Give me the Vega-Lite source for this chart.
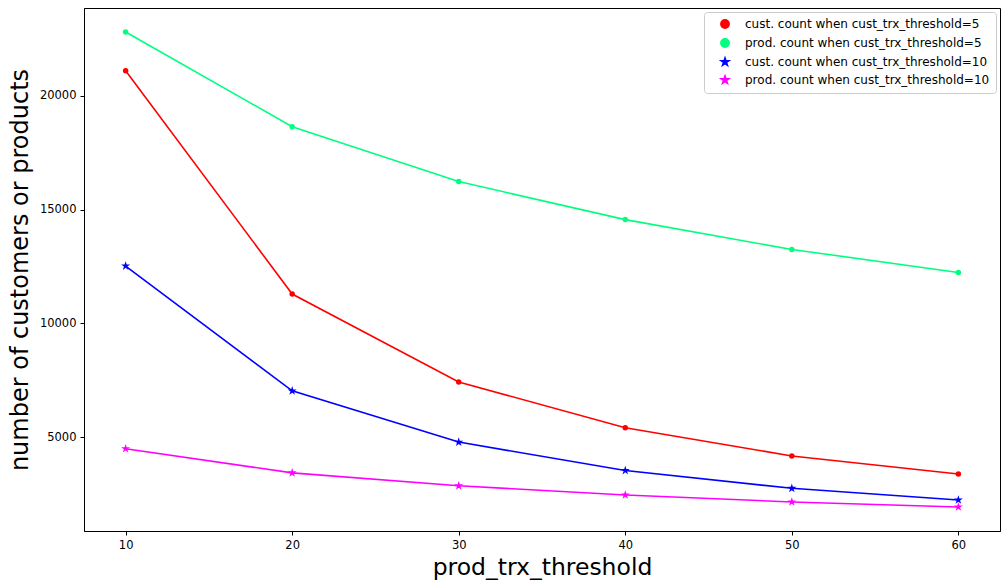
{
  "$schema": "https://vega.github.io/schema/vega-lite/v6.json",
  "width": 916,
  "height": 523,
  "autosize": {"type": "none"},
  "padding": {"left": 84, "top": 8, "right": 1, "bottom": 53},
  "background": "white",
  "config": {
    "font": "DejaVu Sans",
    "view": {"stroke": "black", "strokeWidth": 1},
    "legend": {
      "title": null, "orient": "top-right", "offset": 4,
      "labelFontSize": 12, "labelColor": "black", "labelLimit": 400,
      "symbolSize": 70, "symbolOffset": 9, "labelOffset": 14, "rowPadding": 3,
      "padding": 6, "strokeColor": "#cccccc", "fillColor": "white", "cornerRadius": 3,
      "symbolOpacity": 1
    }
  },
  "data": {
    "values": [
      {"x": 10, "v": 21100, "series": "cust. count when cust_trx_threshold=5"},
      {"x": 20, "v": 11290, "series": "cust. count when cust_trx_threshold=5"},
      {"x": 30, "v": 7430, "series": "cust. count when cust_trx_threshold=5"},
      {"x": 40, "v": 5420, "series": "cust. count when cust_trx_threshold=5"},
      {"x": 50, "v": 4180, "series": "cust. count when cust_trx_threshold=5"},
      {"x": 60, "v": 3390, "series": "cust. count when cust_trx_threshold=5"},
      {"x": 10, "v": 22800, "series": "prod. count when cust_trx_threshold=5"},
      {"x": 20, "v": 18640, "series": "prod. count when cust_trx_threshold=5"},
      {"x": 30, "v": 16230, "series": "prod. count when cust_trx_threshold=5"},
      {"x": 40, "v": 14560, "series": "prod. count when cust_trx_threshold=5"},
      {"x": 50, "v": 13250, "series": "prod. count when cust_trx_threshold=5"},
      {"x": 60, "v": 12240, "series": "prod. count when cust_trx_threshold=5"},
      {"x": 10, "v": 12520, "series": "cust. count when cust_trx_threshold=10"},
      {"x": 20, "v": 7040, "series": "cust. count when cust_trx_threshold=10"},
      {"x": 30, "v": 4790, "series": "cust. count when cust_trx_threshold=10"},
      {"x": 40, "v": 3540, "series": "cust. count when cust_trx_threshold=10"},
      {"x": 50, "v": 2760, "series": "cust. count when cust_trx_threshold=10"},
      {"x": 60, "v": 2250, "series": "cust. count when cust_trx_threshold=10"},
      {"x": 10, "v": 4500, "series": "prod. count when cust_trx_threshold=10"},
      {"x": 20, "v": 3440, "series": "prod. count when cust_trx_threshold=10"},
      {"x": 30, "v": 2870, "series": "prod. count when cust_trx_threshold=10"},
      {"x": 40, "v": 2470, "series": "prod. count when cust_trx_threshold=10"},
      {"x": 50, "v": 2160, "series": "prod. count when cust_trx_threshold=10"},
      {"x": 60, "v": 1940, "series": "prod. count when cust_trx_threshold=10"}
    ]
  },
  "encoding": {
    "x": {
      "field": "x", "type": "quantitative",
      "scale": {"domain": [7.5, 62.5], "nice": false, "zero": false},
      "axis": {
        "title": "prod_trx_threshold", "values": [10, 20, 30, 40, 50, 60],
        "grid": false, "domainColor": "black", "tickColor": "black", "tickSize": 4,
        "labelFontSize": 11.5, "labelColor": "black", "labelPadding": 4,
        "titleFontSize": 23.5, "titleFontWeight": "normal", "titleColor": "black", "titlePadding": 5
      }
    },
    "y": {
      "field": "v", "type": "quantitative",
      "scale": {"domain": [886, 23851], "nice": false, "zero": false},
      "axis": {
        "title": "number of customers or products", "values": [5000, 10000, 15000, 20000], "format": "d",
        "grid": false, "domainColor": "black", "tickColor": "black", "tickSize": 4,
        "labelFontSize": 11.5, "labelColor": "black", "labelPadding": 4,
        "titleFontSize": 24, "titleFontWeight": "normal", "titleColor": "black", "titlePadding": 7
      }
    }
  },
  "layer": [
    {
      "mark": {"type": "line", "strokeWidth": 1.6},
      "encoding": {"color": {"field": "series", "type": "nominal",
        "scale": {
          "domain": ["cust. count when cust_trx_threshold=5", "prod. count when cust_trx_threshold=5", "cust. count when cust_trx_threshold=10", "prod. count when cust_trx_threshold=10"],
          "range": ["#ff0000", "#00ff7f", "#0000ff", "#ff00ff"]
        }
      }}
    },
    {
      "mark": {"type": "point", "filled": true, "opacity": 1},
      "encoding": {
        "color": {
          "field": "series", "type": "nominal",
          "scale": {
            "domain": ["cust. count when cust_trx_threshold=5", "prod. count when cust_trx_threshold=5", "cust. count when cust_trx_threshold=10", "prod. count when cust_trx_threshold=10"],
            "range": ["#ff0000", "#00ff7f", "#0000ff", "#ff00ff"]
          }
        },
        "shape": {
          "field": "series", "type": "nominal",
          "scale": {
            "domain": ["cust. count when cust_trx_threshold=5", "prod. count when cust_trx_threshold=5", "cust. count when cust_trx_threshold=10", "prod. count when cust_trx_threshold=10"],
            "range": ["circle", "circle", "M0,-1L0.2245,-0.309L0.951,-0.309L0.363,0.118L0.588,0.809L0,0.382L-0.588,0.809L-0.363,0.118L-0.951,-0.309L-0.2245,-0.309Z", "M0,-1L0.2245,-0.309L0.951,-0.309L0.363,0.118L0.588,0.809L0,0.382L-0.588,0.809L-0.363,0.118L-0.951,-0.309L-0.2245,-0.309Z"]
          }
        },
        "size": {"condition": {"test": "indexof(datum.series, '=10') >= 0", "value": 90}, "value": 30}
      }
    }
  ]
}
